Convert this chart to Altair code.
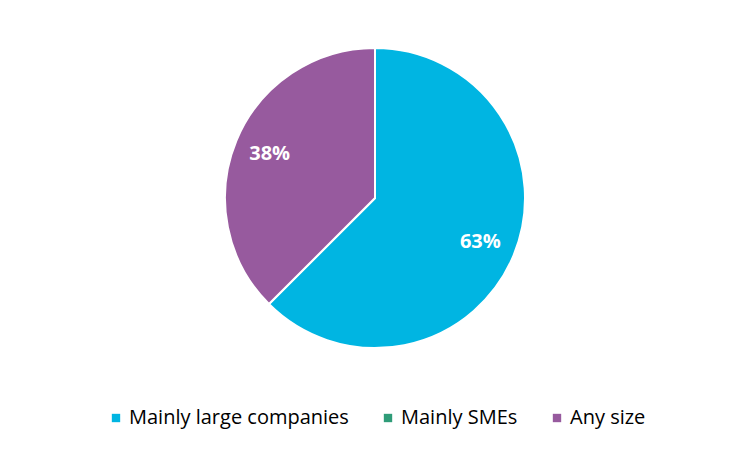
import altair as alt
import pandas as pd

categories = ["Mainly large companies", "Mainly SMEs", "Any size"]
shares = [0.625, 0.0, 0.375]
colors = ["#00B5E2", "#2F9C78", "#975A9E"]

df = pd.DataFrame({"category": categories, "share": shares, "order": list(range(len(categories)))})

FONT = "Open Sans"
cx, cy = 367, 190

base = alt.Chart(df).encode(
    theta=alt.Theta("share:Q", stack=True),
    order=alt.Order("order:Q"),
    x=alt.value(cx),
    y=alt.value(cy),
)

pie = base.mark_arc(outerRadius=150, stroke="white", strokeWidth=2).encode(
    color=alt.Color(
        "category:N",
        scale=alt.Scale(domain=categories, range=colors),
        legend=alt.Legend(
            title=None,
            orient="none",
            legendX=98,
            legendY=400,
            direction="horizontal",
            symbolType="square",
            symbolSize=70,
            symbolStrokeWidth=0,
            labelFont=FONT,
            labelFontSize=20,
            labelColor="#000000",
            labelOffset=3,
            columnPadding=29,
            labelLimit=400,
        ),
    )
)

labels = base.transform_filter("datum.share > 0").mark_text(
    radius=114, font=FONT, fontSize=20, fontWeight="bold", color="white"
).encode(text=alt.Text("share:Q", format=".0%"))

chart = (pie + labels).properties(
    width=734, height=434, autosize=alt.AutoSizeParams(type="none"), padding=0,
    background="white",
).configure_view(stroke=None)

chart.save("out.html", embed_options={"renderer": "svg", "actions": False})
